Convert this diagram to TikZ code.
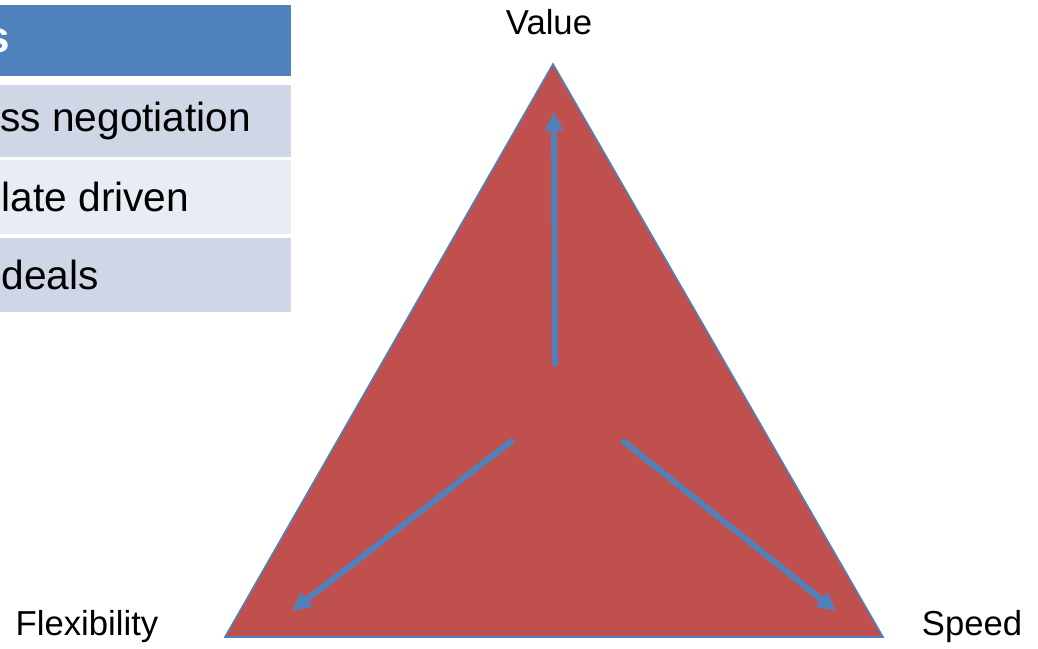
\documentclass[tikz,border=0pt]{standalone}
\usepackage{fontspec}
\setmainfont{Liberation Sans}
\usetikzlibrary{arrows.meta,positioning}
\definecolor{offblue}{HTML}{4F81BD}
\definecolor{offred}{HTML}{C0504D}
\definecolor{rowdark}{HTML}{CFD7E6}
\definecolor{rowlight}{HTML}{E8ECF4}

\begin{document}
\begin{tikzpicture}[
  x=0.75pt, y=-0.75pt,
  every node/.style={font=\fontsize{26}{30}\selectfont},
  cell/.style={inner sep=0pt, minimum width=291*0.75pt, anchor=north west},
  celltext/.style={anchor=west, inner sep=0pt, font=\fontsize{30.5}{34}\selectfont},
  corner/.style={font=\fontsize{26}{30}\selectfont},
  tri/.style={draw=offblue, line width=1.2pt, fill=offred, line join=miter},
  arrow/.style={-{Triangle[length=14pt, width=13pt]}, line width=4.4pt, offblue},
]
\useasboundingbox (0,0) rectangle (1038,649);

%% ── Table (cut at the left edge) ─────────────────────────────────────────────
\node[cell, fill=offblue,   minimum height=71*0.75pt] (hdr)  at (0,5)   {};
\node[cell, fill=rowdark,   minimum height=72*0.75pt] (row1) at (0,85)  {};
\node[cell, fill=rowlight,  minimum height=74*0.75pt] (row2) at (0,160) {};
\node[cell, fill=rowdark,   minimum height=74*0.75pt] (row3) at (0,238) {};

\node[anchor=east, inner sep=0pt, text=white,
      font=\fontsize{33}{36}\selectfont\bfseries] at ([xshift=10*0.75pt]hdr.west) {s};
\node[celltext] at (row1.west) {ss negotiation};
\node[celltext] at ([xshift=1pt]row2.west) {late driven};
\node[celltext] at ([xshift=1pt]row3.west) {deals};

%% ── Triangle ─────────────────────────────────────────────────────────────────
\coordinate (top)   at (553,64);
\coordinate (left)  at (225,637);
\coordinate (right) at (883,637);
\draw[tri] (top) -- (left) -- (right) -- cycle;

%% ── Arrows ───────────────────────────────────────────────────────────────────
\coordinate (upS)    at (555,366);
\coordinate (upE)    at (554,112);
\coordinate (leftS)  at (513,440);
\coordinate (leftE)  at (292,611);
\coordinate (rightS) at (622,440);
\coordinate (rightE) at (836,611);
\draw[arrow] (upS) -- (upE);
\draw[arrow] (leftS) -- (leftE);
\draw[arrow] (rightS) -- (rightE);

%% ── Corner labels ────────────────────────────────────────────────────────────
\node[corner] (value) at (549,22)  {Value};
\node[corner] (flex)  at (87,627)  {Flexibility};
\node[corner] (speed) at (972,627) {Speed};

\end{tikzpicture}
\end{document}
